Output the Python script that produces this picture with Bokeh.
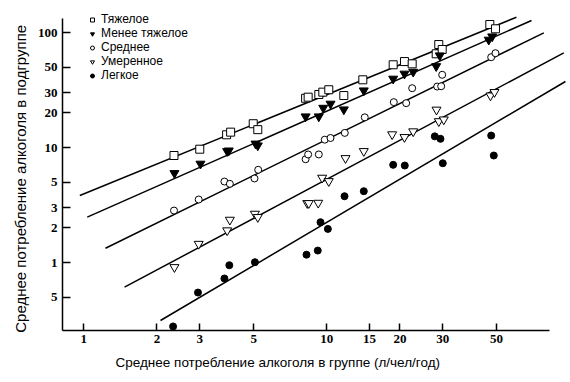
from bokeh.plotting import figure
from bokeh.models import Range1d, FixedTicker, Legend, LegendItem, Title
from bokeh.embed import file_html
from bokeh.resources import INLINE

# ---- data ----
series_names = ["Тяжелое", "Менее тяжелое", "Среднее", "Умеренное", "Легкое"]

heavy_x = [2.35, 3.0, 3.87, 4.02, 4.98, 5.2, 8.18, 8.38, 9.27, 9.63, 10.19, 11.75, 14.07,
           18.76, 20.88, 22.46, 28.2, 28.9, 29.85, 46.87, 49.45]
heavy_y = [8.52, 9.67, 12.9, 13.6, 16.1, 14.3, 26.8, 27.4, 28.9, 30.3, 31.8, 28.3, 38.8,
           52.4, 55.9, 53.4, 65.3, 78.6, 71.2, 117.4, 107.7]

less_x = [2.36, 3.02, 3.89, 3.95, 5.09, 5.2, 8.18, 9.27, 9.67, 10.36, 11.75, 14.2,
          18.76, 20.88, 22.68, 28.2, 29.18, 46.4, 47.95]
less_y = [5.98, 7.22, 9.29, 9.4, 10.8, 10.4, 18.6, 18.6, 22.1, 24.0, 21.4, 31.3,
          39.6, 43.8, 45.5, 50.9, 63.1, 86.4, 92.3]

mid_x = [2.35, 2.97, 3.79, 3.99, 5.04, 5.22, 8.18, 8.38, 9.27, 9.81, 10.36, 11.86, 14.33,
         18.87, 21.22, 22.46, 28.47, 29.57, 29.85, 47.49, 49.45]
mid_y = [2.83, 3.53, 5.06, 4.83, 5.38, 6.40, 7.91, 8.70, 8.70, 11.7, 12.1, 13.4, 18.3,
         24.8, 24.3, 32.8, 33.9, 34.1, 42.9, 61.0, 66.1]

mod_x = [2.36, 2.97, 3.89, 3.99, 5.06, 5.2, 8.31, 8.43, 9.22, 9.57, 10.19, 11.94, 14.2,
         18.58, 20.88, 22.68, 28.28, 28.91, 30.3, 47.18, 48.99]
mod_y = [0.91, 1.45, 1.90, 2.35, 2.65, 2.48, 3.28, 3.28, 3.30, 5.45, 5.09, 8.07, 9.29,
         13.0, 12.3, 13.8, 21.3, 16.9, 17.5, 28.3, 30.3]

light_x = [2.33, 2.95, 3.79, 3.97, 5.06, 8.25, 9.18, 9.42, 10.1, 11.83, 14.2,
           18.76, 20.94, 27.83, 29.37, 30.02, 47.49, 48.68]
light_y = [0.278, 0.548, 0.726, 0.947, 1.006, 1.17, 1.27, 2.24, 1.96, 3.77, 4.17,
           7.07, 6.97, 12.5, 11.9, 7.30, 12.7, 8.52]

# regression lines (start / end values, one per series)
line_x0 = [0.963, 1.033, 1.228, 1.471, 2.068]
line_y0 = [3.83, 2.48, 1.331, 0.610, 0.313]
line_x1 = [60.3, 69.6, 78.2, 94.5, 96.0]
line_y1 = [135.8, 127.2, 99.4, 66.6, 37.5]

x_ticks = [1, 2, 3, 5, 10, 15, 20, 30, 50]
x_tick_labels = ["1", "2", "3", "5", "10", "15", "20", "30", "50"]
y_ticks = [0.5, 1, 2, 3, 5, 10, 20, 30, 50, 100]
y_tick_labels = ["5", "1", "2", "3", "5", "10", "20", "30", "50", "100"]

x_title = "Среднее  потребление  алкоголя  в  группе  (л/чел/год)"
y_title = "Среднее  потребление  алкоголя  в  подгруппе"

# ---- figure ----
p = figure(width=570, height=382, x_axis_type="log", y_axis_type="log",
           x_range=Range1d(0.817, 100.7), y_range=Range1d(0.2563, 155.4),
           output_backend="svg", toolbar_location=None,
           min_border_left=62, min_border_right=0, min_border_top=10, min_border_bottom=52)
p.outline_line_color = None
p.xgrid.visible = False
p.ygrid.visible = False
p.background_fill_color = "white"
p.border_fill_color = "white"

for ax, ticks, labels in ((p.xaxis[0], x_ticks, x_tick_labels), (p.yaxis[0], y_ticks, y_tick_labels)):
    ax.ticker = FixedTicker(ticks=ticks, minor_ticks=[])
    ax.major_label_overrides = {t: l for t, l in zip(ticks, labels)}
    ax.axis_line_color = "black"
    ax.axis_line_width = 1.5
    ax.major_tick_line_width = 1.5
    ax.major_tick_out = 0
    ax.minor_tick_in = 0
    ax.minor_tick_out = 0
    ax.major_label_text_font = "Liberation Serif"
    ax.major_label_text_font_style = "bold"
    ax.major_label_text_font_size = "13px"
    ax.major_label_text_color = "black"
    ax.axis_label_text_font = "Liberation Sans"
    ax.axis_label_text_font_style = "normal"
    ax.axis_label_text_color = "black"

p.xaxis.major_tick_in = 7
p.yaxis.major_tick_in = 8
p.xaxis.major_label_standoff = 4
p.yaxis.major_label_standoff = 5
p.yaxis.axis_label = y_title
p.yaxis.axis_label_text_font_size = "15px"
p.yaxis.axis_label_standoff = 6
p.xaxis.bounds = (0.817, 82.5)
p.yaxis.bounds = (0.2563, 132.3)

xt = Title(text=x_title, align="left", offset=53, standoff=14,
           text_font="Liberation Sans", text_font_size="13.5px",
           text_font_style="normal", text_color="black")
p.add_layout(xt, "below")

# lines
p.segment(x0=line_x0, y0=line_y0, x1=line_x1, y1=line_y1, line_color="black", line_width=1.5)

# markers
r1 = p.scatter(heavy_x, heavy_y, marker="square", size=8, fill_color="white",
               line_color="black", line_width=1)
r2 = p.scatter(less_x, less_y, marker="inverted_triangle", size=9, fill_color="black",
               line_color="black", line_width=1)
r3 = p.scatter(mid_x, mid_y, marker="circle", size=7, fill_color="white",
               line_color="black", line_width=1)
r4 = p.scatter(mod_x, mod_y, marker="inverted_triangle", size=9, fill_color="white",
               line_color="black", line_width=1)
r5 = p.scatter(light_x, light_y, marker="circle", size=7, fill_color="black",
               line_color="black", line_width=1)

legend = Legend(items=[LegendItem(label=n, renderers=[r]) for n, r in
                       zip(series_names, [r1, r2, r3, r4, r5])],
                location=(25, 248))
legend.border_line_color = None
legend.background_fill_alpha = 0
legend.padding = 0
legend.margin = 0
legend.spacing = 0
legend.glyph_width = 10
legend.glyph_height = 13
legend.label_height = 13
legend.label_standoff = 4
legend.label_text_font = "Liberation Sans"
legend.label_text_font_size = "12px"
legend.label_text_color = "black"
p.add_layout(legend)

open("out.html", "w").write(file_html(p, INLINE))
